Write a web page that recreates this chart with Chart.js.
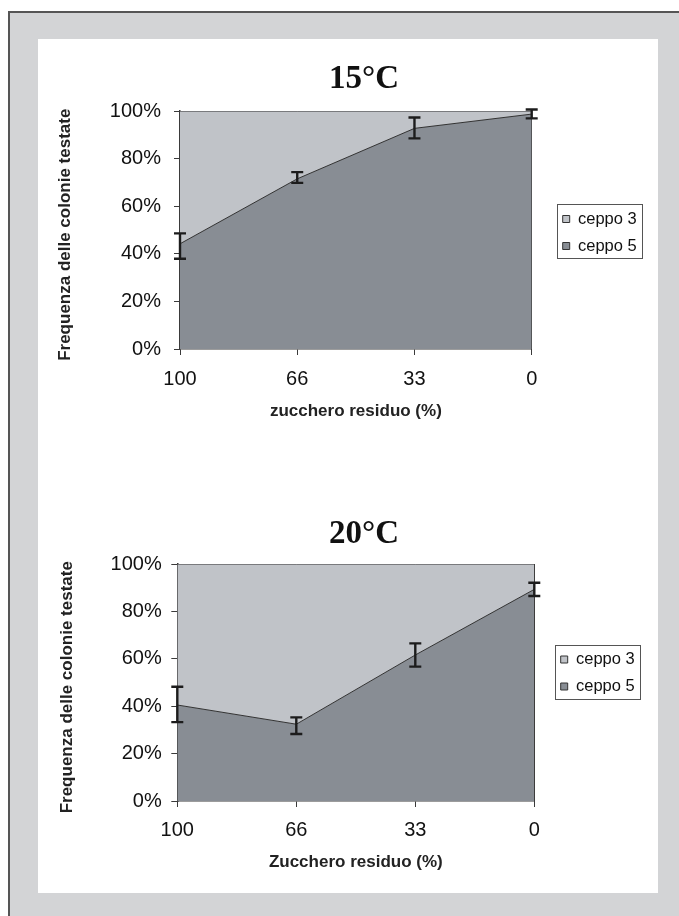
<!DOCTYPE html>
<html lang="it">
<head>
<meta charset="utf-8">
<title>Frequenza delle colonie testate</title>
<script src="https://cdn.jsdelivr.net/npm/chart.js@4.4.1/dist/chart.umd.min.js"></script>
<style>
  html, body { margin: 0; padding: 0; overflow: hidden; background: #fff; }
  #frame {
    position: absolute; left: 8px; top: 11px; width: 720px; height: 960px;
    background: #d3d4d6; border-left: 2px solid #555; border-top: 2px solid #555;
  }
  #sheet { position: absolute; left: 38px; top: 39px; width: 620px; height: 854px; background: #fff; }
  .chart-box { position: absolute; left: 38px; }
  #box15 { top: 39px; }
  #box20 { top: 470px; }
</style>
</head>
<body>
<div id="frame"></div>
<div id="sheet"></div>
<div class="chart-box" id="box15"><canvas id="chart15" width="652" height="387"></canvas></div>
<div class="chart-box" id="box20"><canvas id="chart20" width="652" height="406"></canvas></div>

<script>
// residual sugar (%) on the x axis, percentages
const sugarLabels = ['100', '66', '33', '0'];
const yTickValues = [0, 20, 40, 60, 80, 100];

// 15°C panel
const strain5At15 = [44.2, 71.5, 92.7, 98.7];
const strain3At15 = [55.8, 28.5, 7.3, 1.3];
const errLowAt15 = [37.9, 69.8, 88.5, 96.9];
const errHighAt15 = [48.6, 74.3, 97.3, 100.6];

// 20°C panel
const strain5At20 = [40.5, 32.4, 61.6, 89.3];
const strain3At20 = [59.5, 67.6, 38.4, 10.7];
const errLowAt20 = [33.3, 28.3, 56.7, 86.5];
const errHighAt20 = [48.2, 35.3, 66.5, 92.1];

const LIGHT = '#c0c3c8';
const DARK = '#888d94';
const LINE = '#333';
const AXIS = '#3a3a3a';

Chart.defaults.font.family = "'Liberation Sans', Arial, sans-serif";
Chart.defaults.color = '#111';

// error bars of ceppo 5, drawn through the scales
const errorBars = {
    id: 'errorBars',
    afterDraw(chart) {
        const ctx = chart.ctx;
        const xs = chart.scales.x, ys = chart.scales.y;
        ctx.save();
        ctx.strokeStyle = '#1c1c1c';
        ctx.lineWidth = 2.4;
        chart.data.datasets.forEach(ds => {
            if (!ds.errLow) return;
            ds.errLow.forEach((lo, i) => {
                const px = xs.getPixelForValue(i);
                const top = ys.getPixelForValue(ds.errHigh[i]);
                const bot = ys.getPixelForValue(lo);
                ctx.beginPath();
                ctx.moveTo(px, top); ctx.lineTo(px, bot);
                ctx.moveTo(px - 6, top); ctx.lineTo(px + 6, top);
                ctx.moveTo(px - 6, bot); ctx.lineTo(px + 6, bot);
                ctx.stroke();
            });
        });
        ctx.restore();
    }
};

// thin frame round the legend entries
const legendFrame = {
    id: 'legendFrame',
    afterDraw(chart) {
        const boxes = chart.legend.legendHitBoxes;
        if (!boxes || !boxes.length) return;
        const ctx = chart.ctx;
        const first = boxes[0], last = boxes[boxes.length - 1];
        const left = Math.round(first.left - 6);
        const right = Math.round(Math.max(...boxes.map(b => b.left + b.width)) + 5);
        const top = Math.round(first.top + first.height / 2 - 15);
        const bottom = Math.round(last.top + last.height / 2 + 12);
        ctx.save();
        ctx.strokeStyle = '#555';
        ctx.lineWidth = 1;
        ctx.strokeRect(left + 0.5, top + 0.5, right - left, bottom - top);
        ctx.restore();
    }
};

function makePanel(canvasId, p) {
    return new Chart(document.getElementById(canvasId), {
        type: 'line',
        data: {
            labels: sugarLabels,
            datasets: [{
                label: 'ceppo 5',
                data: p.strain5,
                fill: 'origin',
                backgroundColor: DARK,
                borderColor: LINE,
                borderWidth: 1,
                pointRadius: 0,
                tension: 0,
                errLow: p.low,
                errHigh: p.high
            }, {
                label: 'ceppo 3',
                data: p.strain3,
                fill: '-1',
                backgroundColor: LIGHT,
                borderColor: LINE,
                borderWidth: 1,
                pointRadius: 0,
                tension: 0
            }]
        },
        options: {
            responsive: false,
            animation: false,
            events: [],
            layout: { padding: 0 },
            plugins: {
                tooltip: { enabled: false },
                title: {
                    display: true,
                    text: p.title,
                    color: '#111',
                    font: { family: "'Liberation Serif', 'Times New Roman', serif", size: 33, weight: 'bold' },
                    padding: p.titlePad
                },
                legend: {
                    position: 'right',
                    reverse: true,
                    labels: { boxWidth: 7, boxHeight: 7, padding: 10.5, color: '#111', font: { size: 16.5 } }
                }
            },
            scales: {
                x: {
                    type: 'category',
                    offset: false,
                    z: 1,
                    grid: { drawOnChartArea: false, tickLength: 6, color: AXIS },
                    border: { color: AXIS, width: 1.5 },
                    ticks: { font: { size: 20 }, color: '#111', padding: p.xLabelPad, maxRotation: 0, autoSkip: false },
                    title: {
                        display: true,
                        text: p.xTitle,
                        color: '#222',
                        font: { size: 17, weight: 'bold' },
                        padding: { top: 0, bottom: p.xTitlePad }
                    },
                    afterFit: s => { s.height = p.bottomBand; }
                },
                y: {
                    stacked: true,
                    min: 0,
                    max: 100,
                    z: 1,
                    afterBuildTicks: s => { s.ticks = yTickValues.map(v => ({ value: v })); },
                    grid: { drawOnChartArea: false, tickLength: 6, color: AXIS },
                    border: { color: AXIS, width: 1.5 },
                    ticks: { font: { size: 20 }, color: '#111', padding: p.yLabelPad, callback: v => v + '%' },
                    title: {
                        display: true,
                        text: 'Frequenza delle colonie testate  ',
                        color: '#222',
                        font: { size: 17, weight: 'bold' },
                        padding: { top: p.yTitlePad, bottom: 0 }
                    },
                    afterFit: s => { s.width = p.plotLeft; }
                },
                // right edge of the plot, also keeps the gap before the legend
                edge: {
                    type: 'linear',
                    position: 'right',
                    min: 0,
                    max: 100,
                    z: 1,
                    grid: { display: false },
                    ticks: { display: false },
                    border: { color: AXIS, width: 1 },
                    afterFit: s => { s.width = p.legendLeft - p.plotRight; }
                },
                // hidden room right of the legend so the title is centred like the original
                spacer: {
                    type: 'linear',
                    position: 'right',
                    display: false,
                    weight: 2000,
                    afterFit: s => { s.width = Math.max(0, s.chart.width - p.legendLeft - s.chart.legend.width); }
                }
            }
        },
        plugins: [errorBars, legendFrame]
    });
}

makePanel('chart15', {
    title: '15°C',
    xTitle: 'zucchero residuo (%)',
    strain5: strain5At15, strain3: strain3At15, low: errLowAt15, high: errHighAt15,
    titlePad: { top: 20.2, bottom: 12.2 },
    plotLeft: 142, plotRight: 493.7, legendLeft: 514.2, bottomBand: 77,
    yLabelPad: 13, yTitlePad: 16.8, xLabelPad: 12.3, xTitlePad: 4.8
});

makePanel('chart20', {
    title: '20°C',
    xTitle: 'Zucchero residuo (%)',
    strain5: strain5At20, strain3: strain3At20, low: errLowAt20, high: errHighAt20,
    titlePad: { top: 44.2, bottom: 10.2 },
    plotLeft: 139.3, plotRight: 496.3, legendLeft: 512.2, bottomBand: 75,
    yLabelPad: 9.6, yTitlePad: 19.5, xLabelPad: 11.7, xTitlePad: 3.1
});
</script>
</body>
</html>
